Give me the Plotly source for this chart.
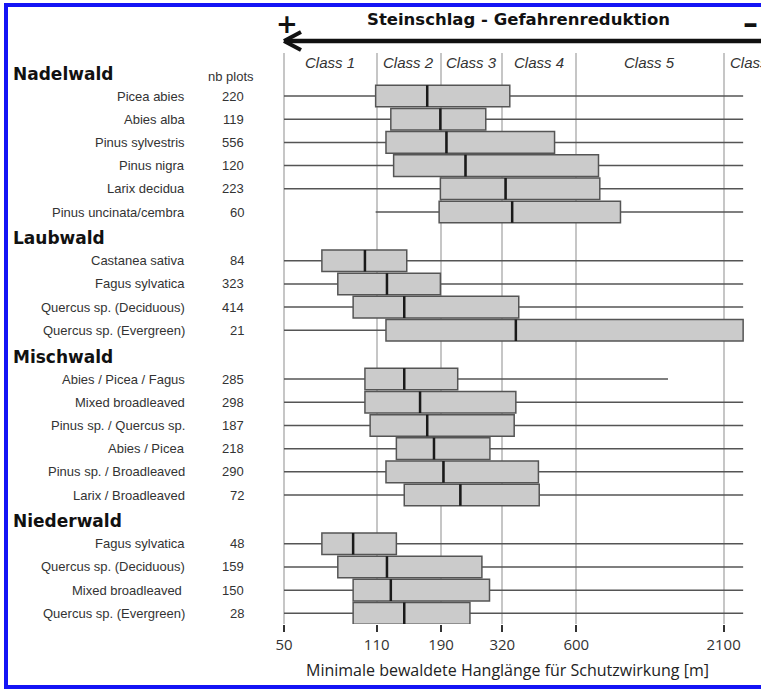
import numpy as np
import plotly.graph_objects as go

# ---------------- data ----------------
groups = ["Nadelwald", "Laubwald", "Mischwald", "Niederwald"]
species = [
    ["Picea abies", "Abies alba", "Pinus sylvestris", "Pinus nigra",
     "Larix decidua", "Pinus uncinata/cembra"],
    ["Castanea sativa", "Fagus sylvatica", "Quercus sp. (Deciduous)",
     "Quercus sp. (Evergreen)"],
    ["Abies / Picea / Fagus", "Mixed broadleaved", "Pinus sp. / Quercus sp.",
     "Abies / Picea", "Pinus sp. / Broadleaved", "Larix / Broadleaved"],
    ["Fagus sylvatica", "Quercus sp. (Deciduous)", "Mixed broadleaved\u00a0",
     "Quercus sp. (Evergreen)"],
]
counts = [220, 119, 556, 120, 223, 60,
          84, 323, 414, 21,
          285, 298, 187, 218, 290, 72,
          48, 159, 150, 28]
lower = [50, 50, 50, 50, 50, 109,
         50, 50, 50, 50,
         50, 50, 50, 50, 50, 50,
         50, 50, 50, 50]
q1 = [109, 124, 119, 127, 189, 187,
      69, 79, 90, 119,
      99.5, 99.5, 104, 130, 119, 139,
      69, 79, 90, 90]
median = [169, 189, 199, 234, 329, 348,
          99.5, 120, 139, 359,
          139, 159, 169, 179, 194, 224,
          90, 120, 124, 139]
q3 = [341, 278, 499, 725, 733, 874,
      142, 189, 368, 2480,
      219, 359, 354, 288, 435, 438,
      130, 269, 287, 243]
upper = [2480, 2480, 2480, 2480, 2480, 2480,
         2480, 2480, 2480, 2480,
         1309, 2480, 2480, 2480, 2480, 2480,
         2480, 2480, 2480, 2480]
tick_vals = [50, 110, 190, 320, 600, 2100]
tick_text = ["50", "110", "190", "320", "600", "2100"]
class_labels = ["Class 1", "Class 2", "Class 3", "Class 4", "Class 5", "Class 6"]
title_text = "Steinschlag - Gefahrenreduktion"
x_title = "Minimale bewaldete Hanglänge für Schutzwirkung [m]"

# ---------------- layout geometry ----------------
W_FIG, H_FIG = 761, 689
L, R, T, B = 278, 745, 53, 624
PW, PH = R - L, B - T

def px2x(px):
    return (px - L) / PW

def py2y(py):
    return (B - py) / PH

# row positions (index units), gaps between groups
ypos, header_pos = [], []
cur = 0.0
for gi, sp in enumerate(species):
    if gi > 0:
        cur += 2.1
    header_pos.append(cur - 0.97)
    for j in range(len(sp)):
        ypos.append(cur)
        cur += 1
    cur -= 1
labels = [s for sp in species for s in sp]

ROW_PX, ROW0_PX = 23.2, 96.0
y_top = (T - ROW0_PX) / ROW_PX
y_bot = (B - ROW0_PX) / ROW_PX

fig = go.Figure()
fig.add_trace(go.Box(
    orientation="h", y=ypos, q1=q1, median=median, q3=q3,
    lowerfence=lower, upperfence=upper, width=0.93, whiskerwidth=0,
    fillcolor="#cbcbcb", line=dict(color="#555555", width=1.5),
    boxpoints=False, hoverinfo="skip", showlegend=False))
# darker median strokes
fig.add_trace(go.Box(
    orientation="h", y=ypos, q1=median, median=median, q3=median,
    lowerfence=median, upperfence=median, width=0.93, whiskerwidth=0,
    fillcolor="rgba(0,0,0,0)", line=dict(color="#1a1a1a", width=2.5),
    boxpoints=False, hoverinfo="skip", showlegend=False))

ann = []
lab_font = dict(family="Liberation Sans, Arial, sans-serif", size=13, color="#333333")
for lab, n, yv in zip(labels, counts, ypos):
    ann.append(dict(xref="paper", yref="y", x=px2x(187), y=yv, text=lab,
                    xanchor="right", yanchor="middle", showarrow=False, font=lab_font))
    ann.append(dict(xref="paper", yref="y", x=px2x(246), y=yv, text=str(n),
                    xanchor="right", yanchor="middle", showarrow=False, font=lab_font))
for g, hp in zip(groups, header_pos):
    ann.append(dict(xref="paper", yref="y", x=px2x(11), y=hp, text=g,
                    xanchor="left", yanchor="middle", showarrow=False,
                    font=dict(family="DejaVu Sans, sans-serif", size=17,
                              color="#111111", weight="bold")))
ann.append(dict(xref="paper", yref="y", x=px2x(231), y=header_pos[0] + 0.15,
                text="nb plots", xanchor="center", yanchor="middle",
                showarrow=False, font=lab_font))

# class labels between the gridlines
lt = np.log10(tick_vals)
cls_font = dict(family="Liberation Sans, Arial, sans-serif", size=15,
                color="#333333", style="italic")
for i, cl in enumerate(class_labels):
    if i < len(lt) - 1:
        ann.append(dict(xref="x", yref="paper", x=(lt[i] + lt[i + 1]) / 2,
                        y=py2y(62), text=cl, xanchor="center", yanchor="middle",
                        showarrow=False, font=cls_font))
    else:
        ann.append(dict(xref="x", yref="paper", x=lt[-1] + 0.018,
                        y=py2y(62), text=cl, xanchor="left", yanchor="middle",
                        showarrow=False, font=cls_font))

# header: title, + and -
ann.append(dict(xref="paper", yref="paper", x=px2x(518), y=py2y(19), text=title_text,
                xanchor="center", yanchor="middle", showarrow=False,
                font=dict(family="DejaVu Sans, sans-serif", size=16.5, color="#111111",
                          weight="bold")))
ann.append(dict(xref="paper", yref="paper", x=px2x(287), y=py2y(24), text="+",
                xanchor="center", yanchor="middle", showarrow=False,
                font=dict(family="DejaVu Sans, sans-serif", size=26, color="#111111",
                          weight="bold")))
ann.append(dict(xref="paper", yref="paper", x=px2x(750), y=py2y(23), text="\u2013",
                xanchor="center", yanchor="middle", showarrow=False,
                font=dict(family="DejaVu Sans, sans-serif", size=30, color="#111111",
                          weight="bold")))
# x axis title
ann.append(dict(xref="paper", yref="paper", x=px2x(507), y=py2y(670), text=x_title,
                xanchor="center", yanchor="middle", showarrow=False,
                font=dict(family="Open Sans, sans-serif", size=16, color="#222222")))

shapes = []
# arrow
ay = py2y(41)
shapes.append(dict(type="line", xref="paper", yref="paper", x0=px2x(285), x1=px2x(775),
                   y0=ay, y1=ay, line=dict(color="#111111", width=4.5)))
shapes.append(dict(type="line", xref="paper", yref="paper", x0=px2x(284), x1=px2x(301),
                   y0=ay, y1=py2y(32), line=dict(color="#111111", width=4)))
shapes.append(dict(type="line", xref="paper", yref="paper", x0=px2x(284), x1=px2x(301),
                   y0=ay, y1=py2y(50), line=dict(color="#111111", width=4)))
# blue frame (left, top, bottom)
blue = "#1414f5"
shapes.append(dict(type="line", xref="paper", yref="paper", x0=px2x(6), x1=px2x(6),
                   y0=py2y(3), y1=py2y(689), line=dict(color=blue, width=4)))
shapes.append(dict(type="line", xref="paper", yref="paper", x0=px2x(4), x1=px2x(770),
                   y0=py2y(5), y1=py2y(5), line=dict(color=blue, width=4)))
shapes.append(dict(type="line", xref="paper", yref="paper", x0=px2x(4), x1=px2x(770),
                   y0=py2y(687), y1=py2y(687), line=dict(color=blue, width=4)))

fig.update_layout(
    width=W_FIG, height=H_FIG, autosize=False,
    margin=dict(l=L, r=W_FIG - R, t=T, b=H_FIG - B, pad=0),
    paper_bgcolor="white", plot_bgcolor="white",
    boxmode="overlay", showlegend=False,
    annotations=ann, shapes=shapes,
    xaxis=dict(type="log",
               range=[np.log10(50) - 6 / 270.8, np.log10(50) + (R - 284) / 270.8],
               tickvals=tick_vals, ticktext=tick_text,
               showgrid=True, gridcolor="#c6c6c6", gridwidth=1.5,
               ticks="outside", ticklen=7, tickwidth=2, tickcolor="#333333",
               showline=False, zeroline=False,
               tickfont=dict(family="Open Sans, sans-serif", size=15, color="#333333")),
    yaxis=dict(range=[y_bot, y_top], showticklabels=False, showgrid=False,
               zeroline=False, ticks=""),
)

fig.write_html("out.html",
               config={"displayModeBar": False},
               post_script="document.body.style.margin='0';"
                           "document.body.style.overflow='hidden';")
